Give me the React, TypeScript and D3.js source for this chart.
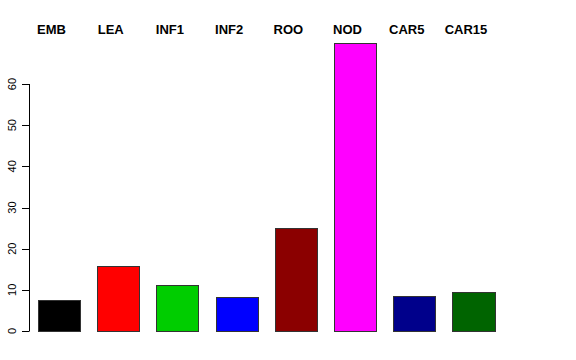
import React from "react";
import * as d3 from "d3";

const categories = ["EMB", "LEA", "INF1", "INF2", "ROO", "NOD", "CAR5", "CAR15"];
const values = [7.5, 15.8, 11.2, 8.3, 25.0, 70.0, 8.5, 9.4];
const colors = ["#000000", "#FF0000", "#00CD00", "#0000FF", "#8B0000", "#FF00FF", "#00008B", "#006400"];
const yTicks = [0, 10, 20, 30, 40, 50, 60];

const W = 576;
const H = 360;

export default function App() {
  const x = d3.scaleBand<string>().domain(categories).range([38, 494.5]).paddingInner(0.29).paddingOuter(0);
  const y = d3.scaleLinear().domain([0, 60]).range([331, 84]);
  const axisX = 29;
  return (
    <svg width={W} height={H} style={{ position: "absolute", left: 0, top: 0, background: "#fff" }} fontFamily="'Liberation Sans', Arial, sans-serif">
      {categories.map((c, i) => (
        <rect
          key={c}
          x={(x(c) as number) + 0.5}
          y={y(values[i]) + 0.5}
          width={x.bandwidth()}
          height={y(0) - y(values[i])}
          fill={colors[i]}
          stroke="#333"
          strokeWidth={1}
          shapeRendering="crispEdges"
        />
      ))}
      {categories.map((c) => (
        <text
          key={"l" + c}
          x={(x(c) as number) + x.bandwidth() / 2 - 7.5}
          y={34}
          textAnchor="middle"
          fontWeight="bold"
          fontSize={13}
          fill="#000"
        >
          {c}
        </text>
      ))}
      <line x1={axisX + 0.5} x2={axisX + 0.5} y1={y(60)} y2={y(0)} stroke="#000" strokeWidth={1} />
      {yTicks.map((t) => (
        <g key={t}>
          <line x1={axisX - 7} x2={axisX + 0.5} y1={Math.round(y(t)) + 0.5} y2={Math.round(y(t)) + 0.5} stroke="#000" strokeWidth={1} />
          <text
            transform={`translate(${16},${y(t)}) rotate(-90)`}
            textAnchor="middle"
            fontSize={11}
            fill="#000"
          >
            {t}
          </text>
        </g>
      ))}
    </svg>
  );
}
